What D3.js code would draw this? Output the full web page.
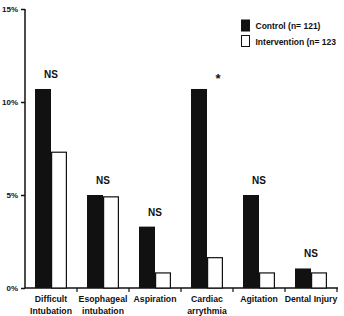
<html>
<head>
  <script src="https://d3js.org/d3.v7.min.js"></script>
  <style>
    body { margin: 0; background: #fff; }
    text { font-family: "Liberation Sans", Arial, sans-serif; font-weight: bold; fill: #111; }
  </style>
</head>
<body>
  <script>
    var w = 344, h = 316;
    var categories = ["Difficult|Intubation", "Esophageal|intubation", "Aspiration", "Cardiac|arrythmia", "Agitation", "Dental Injury"];
    var control = [10.7, 5.0, 3.3, 10.7, 5.0, 1.05];
    var intervention = [7.3, 4.9, 0.81, 1.63, 0.81, 0.81];
    var marks = ["NS", "NS", "NS", "*", "NS", "NS"];
    var yTicks = [0, 5, 10, 15];
    var seriesNames = ["Control (n= 121)", "Intervention (n= 123"];

    var svg = d3.select("body").append("svg").attr("width", w).attr("height", h);
    var x = d3.scaleBand().domain(categories).range([25, 337]).paddingInner(0.385).paddingOuter(0.1925);
    var xs = d3.scaleBand().domain([0, 1]).range([0, x.bandwidth()]);
    var y = d3.scaleLinear().domain([0, 15]).range([288, 9]);

    // y axis
    var yAxis = d3.axisLeft(y).tickValues(yTicks).tickFormat(function(d){return d + "%";}).tickSize(4).tickPadding(3);
    var gy = svg.append("g").attr("transform", "translate(25,0)").call(yAxis);
    gy.select(".domain").attr("stroke", "#111").attr("stroke-width", 1.5).attr("d", "M0,9V288");
    gy.selectAll(".tick line").attr("stroke", "#111").attr("stroke-width", 1.5);
    gy.selectAll(".tick text").style("font-size", "8px").attr("font-family", null);

    // x axis line and boundary ticks
    svg.append("line").attr("x1", 25).attr("x2", 338).attr("y1", 288).attr("y2", 288)
      .attr("stroke", "#111").attr("stroke-width", 1.5);
    var half = x.step() * x.paddingInner() / 2;
    svg.selectAll(".xt").data(categories).enter().append("line").attr("class", "xt")
      .attr("x1", function(d){return x(d) + x.bandwidth() + half;})
      .attr("x2", function(d){return x(d) + x.bandwidth() + half;})
      .attr("y1", 288).attr("y2", 292).attr("stroke", "#111").attr("stroke-width", 1.2);

    // bars
    var grp = svg.selectAll(".grp").data(categories).enter().append("g")
      .attr("transform", function(d){return "translate(" + x(d) + ",0)";});
    grp.append("rect")
      .attr("x", xs(0)).attr("width", xs.bandwidth())
      .attr("y", function(d, i){return y(control[i]);})
      .attr("height", function(d, i){return 288 - y(control[i]);})
      .attr("fill", "#111");
    grp.append("rect")
      .attr("x", xs(1) + 0.6).attr("width", xs.bandwidth() - 1.2)
      .attr("y", function(d, i){return y(intervention[i]);})
      .attr("height", function(d, i){return 288 - y(intervention[i]);})
      .attr("fill", "#fff").attr("stroke", "#111").attr("stroke-width", 1.2);

    // significance marks
    grp.append("text")
      .attr("x", function(d, i){return marks[i] == "*" ? x.bandwidth() / 2 + 11 : x.bandwidth() / 2;})
      .attr("y", function(d, i){
        var top = y(Math.max(control[i], intervention[i]));
        return marks[i] == "*" ? top - 6 : top - 11;
      })
      .attr("text-anchor", "middle")
      .style("font-size", function(d, i){return marks[i] == "*" ? "13px" : "10px";})
      .text(function(d, i){return marks[i];});

    // category labels
    grp.append("text")
      .attr("text-anchor", "middle").style("font-size", "8.7px")
      .each(function(d){
        var t = d3.select(this), parts = d.split("|");
        parts.forEach(function(p, k){
          t.append("tspan").attr("x", x.bandwidth() / 2).attr("y", 302 + k * 12).text(p);
        });
      });

    // legend
    var lg = svg.selectAll(".lg").data(seriesNames).enter().append("g")
      .attr("transform", function(d, i){return "translate(241.5," + (20 + i * 15.5) + ")";});
    lg.append("rect").attr("width", 8).attr("height", 11)
      .attr("fill", function(d, i){return i == 0 ? "#111" : "#fff";})
      .attr("stroke", "#111").attr("stroke-width", 1);
    lg.append("text").attr("x", 14).attr("y", 9).style("font-size", "8.5px").text(function(d){return d;});
  </script>
</body>
</html>
